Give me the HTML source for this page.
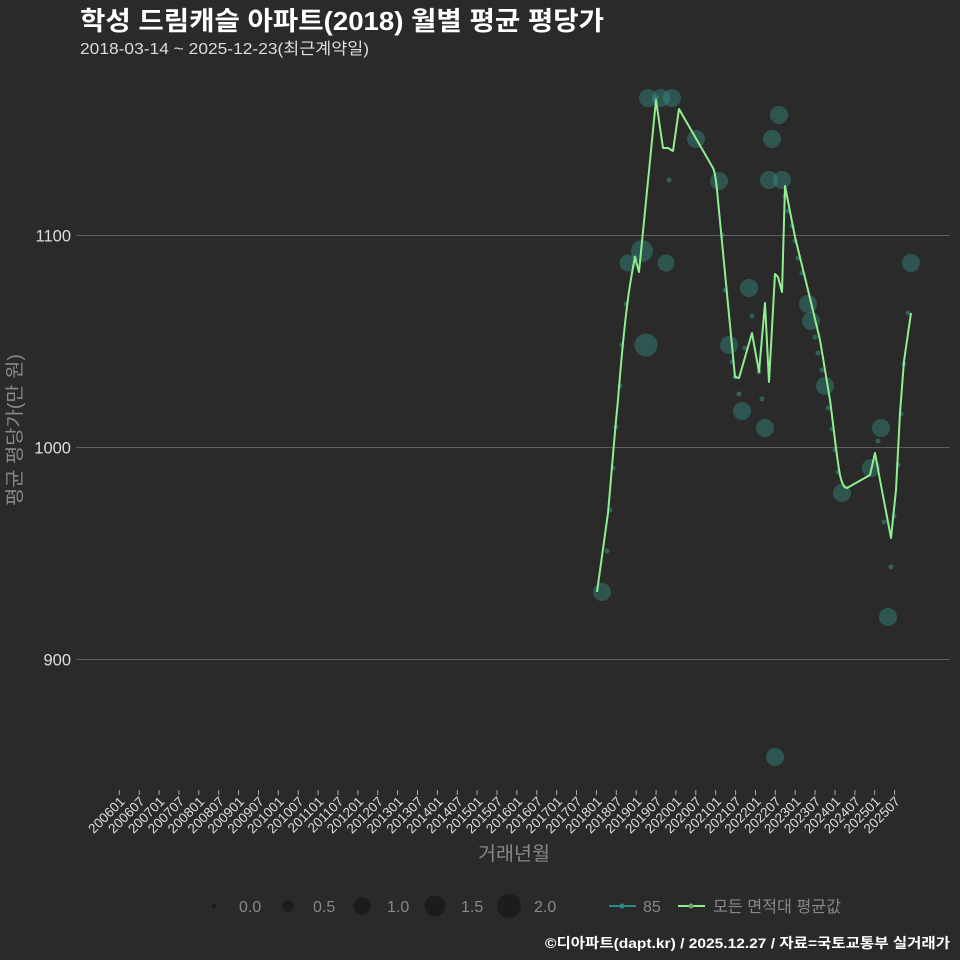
<!DOCTYPE html>
<html><head><meta charset="utf-8"><style>
html,body{margin:0;padding:0;background:#2a2a2a;}
svg{display:block;}
text{font-family:"Liberation Sans","Noto Sans CJK KR",sans-serif;}
</style></head><body>
<svg width="960" height="960" viewBox="0 0 960 960" xmlns="http://www.w3.org/2000/svg">
<rect width="960" height="960" fill="#2a2a2a"/>
<text x="80" y="30" font-size="26" font-weight="bold" fill="#ffffff" textLength="524" lengthAdjust="spacingAndGlyphs">학성 드림캐슬 아파트(2018) 월별 평균 평당가</text>
<text x="80" y="54" font-size="16" fill="#dddddd" textLength="289" lengthAdjust="spacingAndGlyphs">2018-03-14 ~ 2025-12-23(최근계약일)</text>

<g stroke="#5e5e5e" stroke-width="1">
<line x1="76" y1="235.5" x2="950" y2="235.5"/>
<line x1="76" y1="447.5" x2="950" y2="447.5"/>
<line x1="76" y1="659.5" x2="950" y2="659.5"/>
</g>
<g font-size="16.5" fill="#dddddd" text-anchor="end">
<text x="71" y="241.5">1100</text>
<text x="71" y="453.5">1000</text>
<text x="71" y="665.5">900</text>
</g>
<text transform="translate(21,430) rotate(-90)" font-size="19" fill="#888888" text-anchor="middle" textLength="152" lengthAdjust="spacingAndGlyphs">평균 평당가(만 원)</text>

<g fill="rgb(56,150,140)" fill-opacity="0.4">
<circle cx="602" cy="592" r="9"/>
<circle cx="648" cy="98" r="9"/>
<circle cx="661" cy="98" r="9"/>
<circle cx="672" cy="98" r="9"/>
<circle cx="642" cy="251" r="11"/>
<circle cx="628" cy="263" r="8.5"/>
<circle cx="666" cy="263" r="8.5"/>
<circle cx="646" cy="345" r="11.5"/>
<circle cx="696" cy="139" r="9"/>
<circle cx="719" cy="181" r="9"/>
<circle cx="729" cy="345" r="9"/>
<circle cx="749" cy="288" r="9"/>
<circle cx="742" cy="411" r="9"/>
<circle cx="765" cy="428" r="9"/>
<circle cx="779" cy="115" r="9"/>
<circle cx="772" cy="139" r="9"/>
<circle cx="769" cy="180" r="9"/>
<circle cx="782" cy="180" r="9"/>
<circle cx="808" cy="304" r="9"/>
<circle cx="811" cy="321" r="9"/>
<circle cx="825" cy="386" r="9"/>
<circle cx="881" cy="428" r="9"/>
<circle cx="871" cy="468" r="9"/>
<circle cx="842" cy="493" r="9"/>
<circle cx="888" cy="617" r="9"/>
<circle cx="911" cy="263" r="9"/>
<circle cx="775" cy="757" r="9"/>
</g>
<g fill="rgb(56,150,140)" fill-opacity="0.5">
<circle cx="607" cy="551" r="2.5"/>
<circle cx="610" cy="510" r="2.5"/>
<circle cx="613" cy="468" r="2.5"/>
<circle cx="616" cy="427" r="2.5"/>
<circle cx="620" cy="386" r="2.5"/>
<circle cx="622" cy="345" r="2.5"/>
<circle cx="626" cy="304" r="2.5"/>
<circle cx="635" cy="257" r="2.5"/>
<circle cx="656" cy="98" r="2.5"/>
<circle cx="669" cy="180" r="2.5"/>
<circle cx="722" cy="235" r="2.5"/>
<circle cx="725" cy="290" r="2.5"/>
<circle cx="752" cy="316" r="2.5"/>
<circle cx="732" cy="362" r="2.5"/>
<circle cx="735" cy="377" r="2.5"/>
<circle cx="739" cy="394" r="2.5"/>
<circle cx="745" cy="348" r="2.5"/>
<circle cx="759" cy="372" r="2.5"/>
<circle cx="762" cy="399" r="2.5"/>
<circle cx="785" cy="196" r="2.5"/>
<circle cx="788" cy="211" r="2.5"/>
<circle cx="792" cy="226" r="2.5"/>
<circle cx="795" cy="241" r="2.5"/>
<circle cx="798" cy="258" r="2.5"/>
<circle cx="802" cy="273" r="2.5"/>
<circle cx="815" cy="337" r="2.5"/>
<circle cx="818" cy="353" r="2.5"/>
<circle cx="822" cy="370" r="2.5"/>
<circle cx="828" cy="408" r="2.5"/>
<circle cx="832" cy="429" r="2.5"/>
<circle cx="835" cy="450" r="2.5"/>
<circle cx="838" cy="472" r="2.5"/>
<circle cx="878" cy="441" r="2.5"/>
<circle cx="884" cy="522" r="2.5"/>
<circle cx="894" cy="516" r="2.5"/>
<circle cx="891" cy="567" r="2.5"/>
<circle cx="898" cy="465" r="2.5"/>
<circle cx="901" cy="414" r="2.5"/>
<circle cx="904" cy="364" r="2.5"/>
<circle cx="908" cy="313" r="2.5"/>
</g>

<path d="M597,592 L608,513 C611,480 614,440 618,400 C622,350 626,310 630,285 C632,272 634,262 635,257 L639,272 L656,100 L663,148 L668,148 L673,151 L679,109 L713,168 C715,172 716,180 717,190 L735,377 L739,378 L752,333 L759,372 L765,303 L769,382 L775,274 L778,277 L782,292 L785,186 L795,237 L808,290 L820,340 L830,400 C834,430 837,460 840,475 C842,484 844,488 847,488 L870,475 L875,453 L880,480 L891,538 L896,490 L900,413 L904,361 L911,313" fill="none" stroke="#90ee90" stroke-width="2" stroke-linejoin="round"/>

<text x="514" y="860" font-size="19" fill="#888888" text-anchor="middle" textLength="72" lengthAdjust="spacingAndGlyphs">거래년월</text>

<g fill="#1c1c1c">
<circle cx="214" cy="906" r="2"/>
<circle cx="288" cy="906" r="6"/>
<circle cx="362" cy="906" r="8.5"/>
<circle cx="435" cy="906" r="10.5"/>
<circle cx="509" cy="906" r="12"/>
</g>
<g font-size="16" fill="#888888">
<text x="239" y="912">0.0</text>
<text x="313" y="912">0.5</text>
<text x="387" y="912">1.0</text>
<text x="461" y="912">1.5</text>
<text x="534" y="912">2.0</text>
<text x="643" y="912">85</text>
<text x="713" y="912" textLength="128" lengthAdjust="spacingAndGlyphs">모든 면적대 평균값</text>
</g>
<line x1="609" y1="906" x2="636" y2="906" stroke="#2e8a84" stroke-width="2"/>
<circle cx="622" cy="906" r="2.5" fill="#2e8a84"/>
<line x1="678" y1="906" x2="705" y2="906" stroke="#90ee90" stroke-width="2"/>
<circle cx="691" cy="906" r="2.5" fill="#6aa86a"/>

<text x="950" y="948" font-size="14" font-weight="bold" fill="#ffffff" text-anchor="end" textLength="405" lengthAdjust="spacingAndGlyphs">©디아파트(dapt.kr) / 2025.12.27 / 자료=국토교통부 실거래가</text>

<g stroke="#aaaaaa" stroke-width="1">
<line x1="119.3" y1="790" x2="119.3" y2="795"/><line x1="139.2" y1="790" x2="139.2" y2="795"/><line x1="159.1" y1="790" x2="159.1" y2="795"/><line x1="178.9" y1="790" x2="178.9" y2="795"/><line x1="198.8" y1="790" x2="198.8" y2="795"/><line x1="218.7" y1="790" x2="218.7" y2="795"/><line x1="238.6" y1="790" x2="238.6" y2="795"/><line x1="258.5" y1="790" x2="258.5" y2="795"/><line x1="278.3" y1="790" x2="278.3" y2="795"/><line x1="298.2" y1="790" x2="298.2" y2="795"/><line x1="318.1" y1="790" x2="318.1" y2="795"/><line x1="338.0" y1="790" x2="338.0" y2="795"/><line x1="357.9" y1="790" x2="357.9" y2="795"/><line x1="377.7" y1="790" x2="377.7" y2="795"/><line x1="397.6" y1="790" x2="397.6" y2="795"/><line x1="417.5" y1="790" x2="417.5" y2="795"/><line x1="437.4" y1="790" x2="437.4" y2="795"/><line x1="457.3" y1="790" x2="457.3" y2="795"/><line x1="477.1" y1="790" x2="477.1" y2="795"/><line x1="497.0" y1="790" x2="497.0" y2="795"/><line x1="516.9" y1="790" x2="516.9" y2="795"/><line x1="536.8" y1="790" x2="536.8" y2="795"/><line x1="556.7" y1="790" x2="556.7" y2="795"/><line x1="576.5" y1="790" x2="576.5" y2="795"/><line x1="596.4" y1="790" x2="596.4" y2="795"/><line x1="616.3" y1="790" x2="616.3" y2="795"/><line x1="636.2" y1="790" x2="636.2" y2="795"/><line x1="656.1" y1="790" x2="656.1" y2="795"/><line x1="675.9" y1="790" x2="675.9" y2="795"/><line x1="695.8" y1="790" x2="695.8" y2="795"/><line x1="715.7" y1="790" x2="715.7" y2="795"/><line x1="735.6" y1="790" x2="735.6" y2="795"/><line x1="755.5" y1="790" x2="755.5" y2="795"/><line x1="775.3" y1="790" x2="775.3" y2="795"/><line x1="795.2" y1="790" x2="795.2" y2="795"/><line x1="815.1" y1="790" x2="815.1" y2="795"/><line x1="835.0" y1="790" x2="835.0" y2="795"/><line x1="854.9" y1="790" x2="854.9" y2="795"/><line x1="874.7" y1="790" x2="874.7" y2="795"/><line x1="894.6" y1="790" x2="894.6" y2="795"/>
</g>
<g font-size="13.5" fill="#dddddd" text-anchor="end">
<text transform="translate(122.3,799) rotate(-45)" dy="0.35em">200601</text>
<text transform="translate(142.2,799) rotate(-45)" dy="0.35em">200607</text>
<text transform="translate(162.1,799) rotate(-45)" dy="0.35em">200701</text>
<text transform="translate(181.9,799) rotate(-45)" dy="0.35em">200707</text>
<text transform="translate(201.8,799) rotate(-45)" dy="0.35em">200801</text>
<text transform="translate(221.7,799) rotate(-45)" dy="0.35em">200807</text>
<text transform="translate(241.6,799) rotate(-45)" dy="0.35em">200901</text>
<text transform="translate(261.5,799) rotate(-45)" dy="0.35em">200907</text>
<text transform="translate(281.3,799) rotate(-45)" dy="0.35em">201001</text>
<text transform="translate(301.2,799) rotate(-45)" dy="0.35em">201007</text>
<text transform="translate(321.1,799) rotate(-45)" dy="0.35em">201101</text>
<text transform="translate(341.0,799) rotate(-45)" dy="0.35em">201107</text>
<text transform="translate(360.9,799) rotate(-45)" dy="0.35em">201201</text>
<text transform="translate(380.7,799) rotate(-45)" dy="0.35em">201207</text>
<text transform="translate(400.6,799) rotate(-45)" dy="0.35em">201301</text>
<text transform="translate(420.5,799) rotate(-45)" dy="0.35em">201307</text>
<text transform="translate(440.4,799) rotate(-45)" dy="0.35em">201401</text>
<text transform="translate(460.3,799) rotate(-45)" dy="0.35em">201407</text>
<text transform="translate(480.1,799) rotate(-45)" dy="0.35em">201501</text>
<text transform="translate(500.0,799) rotate(-45)" dy="0.35em">201507</text>
<text transform="translate(519.9,799) rotate(-45)" dy="0.35em">201601</text>
<text transform="translate(539.8,799) rotate(-45)" dy="0.35em">201607</text>
<text transform="translate(559.7,799) rotate(-45)" dy="0.35em">201701</text>
<text transform="translate(579.5,799) rotate(-45)" dy="0.35em">201707</text>
<text transform="translate(599.4,799) rotate(-45)" dy="0.35em">201801</text>
<text transform="translate(619.3,799) rotate(-45)" dy="0.35em">201807</text>
<text transform="translate(639.2,799) rotate(-45)" dy="0.35em">201901</text>
<text transform="translate(659.1,799) rotate(-45)" dy="0.35em">201907</text>
<text transform="translate(678.9,799) rotate(-45)" dy="0.35em">202001</text>
<text transform="translate(698.8,799) rotate(-45)" dy="0.35em">202007</text>
<text transform="translate(718.7,799) rotate(-45)" dy="0.35em">202101</text>
<text transform="translate(738.6,799) rotate(-45)" dy="0.35em">202107</text>
<text transform="translate(758.5,799) rotate(-45)" dy="0.35em">202201</text>
<text transform="translate(778.3,799) rotate(-45)" dy="0.35em">202207</text>
<text transform="translate(798.2,799) rotate(-45)" dy="0.35em">202301</text>
<text transform="translate(818.1,799) rotate(-45)" dy="0.35em">202307</text>
<text transform="translate(838.0,799) rotate(-45)" dy="0.35em">202401</text>
<text transform="translate(857.9,799) rotate(-45)" dy="0.35em">202407</text>
<text transform="translate(877.7,799) rotate(-45)" dy="0.35em">202501</text>
<text transform="translate(897.6,799) rotate(-45)" dy="0.35em">202507</text>
</g>
</svg>
</body></html>
